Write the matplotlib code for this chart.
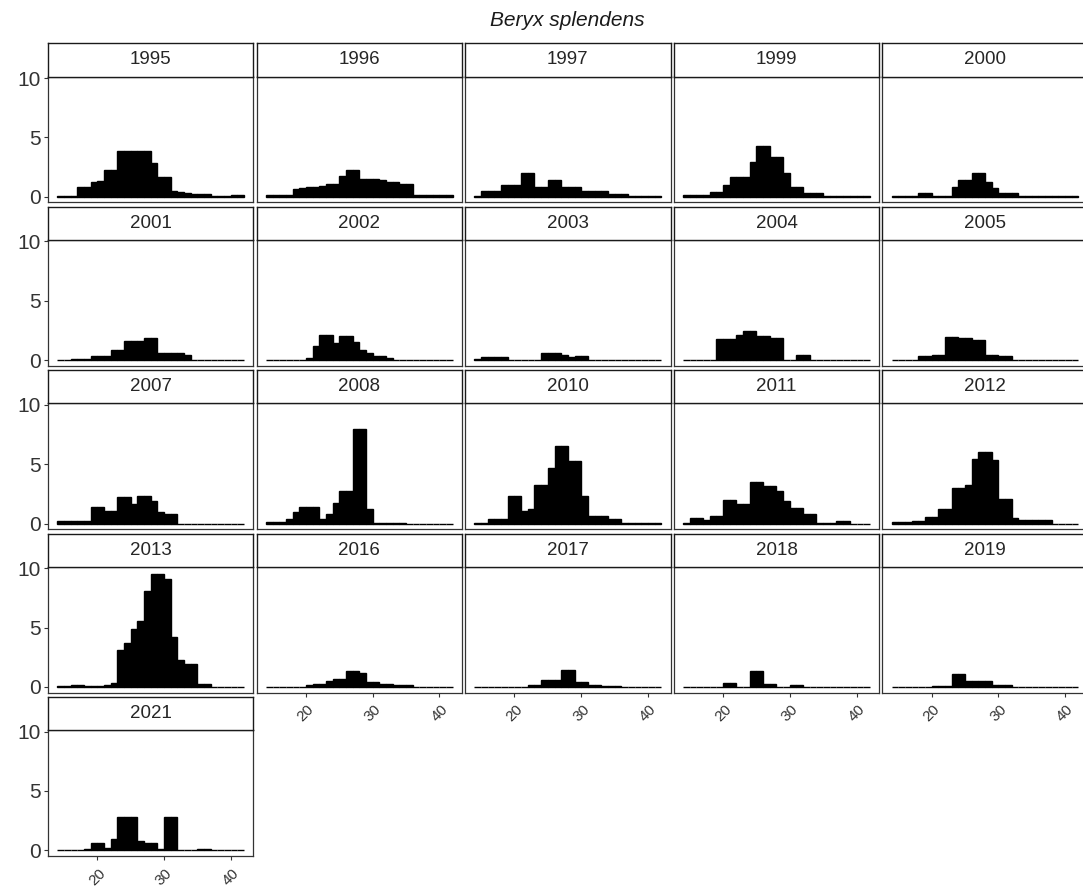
import numpy as np
import matplotlib
matplotlib.use('Agg')
import matplotlib.pyplot as plt

plt.rcParams['font.family'] = ['Liberation Sans', 'DejaVu Sans']

# bin edges (binwidth 1, length classes 14..42)
bin_edges = list(range(14, 43))

years = ['1995', '1996', '1997', '1999', '2000',
         '2001', '2002', '2003', '2004', '2005',
         '2007', '2008', '2010', '2011', '2012',
         '2013', '2016', '2017', '2018', '2019',
         '2021']

# bar heights per year, one value per bin
h1995 = [0.05, 0.05, 0.05, 0.85, 0.85, 1.25, 1.3, 2.25, 2.25, 3.85, 3.85, 3.85, 3.85, 3.85,
         2.87, 1.7, 1.7, 0.45, 0.4, 0.35, 0.22, 0.22, 0.22, 0.05, 0.05, 0.05, 0.17, 0.17]
h1996 = [0.12, 0.12, 0.12, 0.12, 0.65, 0.7, 0.8, 0.85, 0.9, 1.05, 1.05, 1.75, 2.25, 2.25,
         1.45, 1.45, 1.45, 1.4, 1.2, 1.2, 1.05, 1.05, 0.12, 0.12, 0.12, 0.12, 0.12, 0.12]
h1997 = [0.1, 0.5, 0.5, 0.5, 1.0, 1.0, 1.0, 2.0, 2.0, 0.85, 0.85, 1.4, 1.4, 0.85,
         0.85, 0.85, 0.45, 0.45, 0.45, 0.45, 0.2, 0.2, 0.2, 0.07, 0.07, 0.07, 0.07, 0.07]
h1999 = [0.12, 0.12, 0.12, 0.12, 0.42, 0.42, 1.0, 1.63, 1.63, 1.63, 2.95, 4.27, 4.27, 3.37,
         3.37, 2.0, 0.8, 0.8, 0.28, 0.28, 0.28, 0.05, 0.05, 0.05, 0.05, 0.05, 0.05, 0.05]
h2000 = [0.05, 0.05, 0.05, 0.05, 0.28, 0.28, 0.1, 0.1, 0.1, 0.85, 1.4, 1.4, 2.0, 2.0,
         1.2, 0.7, 0.28, 0.28, 0.28, 0.03, 0.03, 0.03, 0.03, 0.03, 0.03, 0.03, 0.03, 0.03]
h2001 = [0, 0, 0.08, 0.08, 0.08, 0.37, 0.37, 0.37, 0.85, 0.85, 1.63, 1.63, 1.63, 1.9,
         1.9, 0.56, 0.56, 0.56, 0.56, 0.42, 0, 0, 0, 0, 0, 0, 0, 0]
h2002 = [0, 0, 0, 0, 0, 0, 0.2, 1.2, 2.15, 2.15, 1.4, 2.05, 2.05, 1.55,
         0.85, 0.62, 0.34, 0.34, 0.14, 0, 0, 0, 0, 0, 0, 0, 0, 0]
h2003 = [0.08, 0.22, 0.22, 0.22, 0.22, 0, 0, 0, 0, 0, 0.6, 0.6, 0.6, 0.42,
         0.22, 0.37, 0.37, 0, 0, 0, 0, 0, 0, 0, 0, 0, 0, 0]
h2004 = [0, 0, 0, 0, 0, 1.77, 1.77, 1.77, 2.1, 2.45, 2.45, 2.0, 2.0, 1.9,
         1.9, 0.05, 0.05, 0.42, 0.42, 0, 0, 0, 0, 0, 0, 0, 0, 0]
h2005 = [0, 0, 0, 0, 0.37, 0.37, 0.42, 0.42, 1.97, 1.97, 1.83, 1.83, 1.7, 1.7,
         0.42, 0.42, 0.34, 0.34, 0, 0, 0, 0, 0, 0, 0, 0, 0, 0]
h2007 = [0.17, 0.17, 0.17, 0.17, 0.17, 1.35, 1.35, 1.07, 1.07, 2.25, 2.25, 1.63, 2.34, 2.34,
         1.9, 0.93, 0.8, 0.8, 0, 0, 0, 0, 0, 0, 0, 0, 0, 0]
h2008 = [0.14, 0.14, 0.14, 0.42, 0.93, 1.4, 1.4, 1.4, 0.37, 0.84, 1.71, 2.7, 2.7, 7.95,
         7.95, 1.2, 0.08, 0.08, 0.08, 0.08, 0.08, 0, 0, 0, 0, 0, 0, 0]
h2010 = [0.08, 0.08, 0.37, 0.37, 0.37, 2.34, 2.34, 1.07, 1.2, 3.27, 3.27, 4.65, 6.56, 6.56,
         5.3, 5.3, 2.34, 0.65, 0.65, 0.65, 0.37, 0.37, 0.05, 0.05, 0.05, 0.05, 0.05, 0.05]
h2011 = [0.05, 0.45, 0.45, 0.28, 0.65, 0.65, 1.97, 1.97, 1.63, 1.63, 3.46, 3.46, 3.18, 3.18,
         2.75, 1.9, 1.3, 1.3, 0.8, 0.8, 0.08, 0.08, 0.08, 0.2, 0.2, 0, 0, 0]
h2012 = [0.1, 0.1, 0.1, 0.22, 0.22, 0.56, 0.56, 1.2, 1.2, 2.95, 2.95, 3.24, 5.44, 6.0,
         6.0, 5.35, 2.05, 2.05, 0.5, 0.28, 0.28, 0.28, 0.28, 0.28, 0, 0, 0, 0]
h2013 = [0.05, 0.05, 0.2, 0.2, 0.05, 0.05, 0.1, 0.2, 0.35, 3.1, 3.7, 4.9, 5.56, 8.1,
         9.55, 9.55, 9.07, 4.2, 2.3, 1.9, 1.9, 0.22, 0.22, 0.03, 0.03, 0.03, 0.03, 0.03]
h2016 = [0, 0, 0, 0, 0, 0, 0.12, 0.22, 0.22, 0.5, 0.65, 0.65, 1.35, 1.35,
         1.2, 0.42, 0.42, 0.28, 0.28, 0.12, 0.12, 0.12, 0, 0, 0, 0, 0, 0]
h2017 = [0, 0, 0, 0, 0, 0, 0, 0, 0.2, 0.2, 0.62, 0.62, 0.62, 1.46,
         1.46, 0.42, 0.42, 0.14, 0.14, 0.06, 0.06, 0.06, 0, 0, 0, 0, 0, 0]
h2018 = [0, 0, 0, 0, 0, 0, 0.34, 0.34, 0.03, 0.03, 1.35, 1.35, 0.22, 0.22,
         0.03, 0.03, 0.17, 0.17, 0, 0, 0, 0, 0, 0, 0, 0, 0, 0]
h2019 = [0, 0, 0, 0, 0, 0, 0.08, 0.08, 0.08, 1.07, 1.07, 0.5, 0.5, 0.5,
         0.5, 0.14, 0.14, 0.14, 0.03, 0.03, 0.03, 0.03, 0.03, 0.03, 0.03, 0.03, 0.03, 0.03]
h2021 = [0, 0, 0, 0, 0.1, 0.62, 0.62, 0.2, 0.98, 2.8, 2.8, 2.8, 0.76, 0.62,
         0.62, 0.1, 2.78, 2.78, 0, 0, 0, 0.14, 0.14, 0, 0, 0, 0, 0]

heights = [h1995, h1996, h1997, h1999, h2000, h2001, h2002, h2003, h2004, h2005,
           h2007, h2008, h2010, h2011, h2012, h2013, h2016, h2017, h2018, h2019, h2021]

W, H = 1083, 891
fig = plt.figure(figsize=(W / 100, H / 100), dpi=100)

ncol = 5
col_pitch, row_pitch = 208.6, 163.4
pan_w, pan_h = 205.5, 125.9
strip_h = 33.2
x0, y0 = 47.9, 76.5

left_edges = bin_edges[:-1]
xmin, xmax = bin_edges[0], bin_edges[-1]
xpad = 0.05 * (xmax - xmin)

n = len(years)
for i, (yr, hh) in enumerate(zip(years, heights)):
    r, c = divmod(i, ncol)
    left = x0 + c * col_pitch
    top = y0 + r * row_pitch
    ax = fig.add_axes([left / W, 1 - (top + pan_h) / H, pan_w / W, pan_h / H])
    ax.bar(left_edges, hh, width=1, align='edge', color='black',
           edgecolor='black', linewidth=1.0)
    ax.set_xlim(xmin - xpad, xmax + xpad)
    ax.set_ylim(-0.48, 10.13)
    for s in ax.spines.values():
        s.set_color('#333333')
        s.set_linewidth(0.9)
    ax.set_xticks([20, 30, 40])
    ax.set_yticks([0, 5, 10])
    ax.tick_params(colors='#333333', length=3, width=0.8)
    # y labels only on first column
    if c == 0:
        ax.tick_params(axis='y', labelsize=15, labelcolor='#333333', pad=2)
    else:
        ax.tick_params(axis='y', left=False, labelleft=False)
    # x labels only on the lowest panel of each column
    if i + ncol >= n:
        ax.tick_params(axis='x', labelsize=11, labelcolor='#333333', pad=4)
        for lab in ax.get_xticklabels():
            lab.set_rotation(45)
            lab.set_ha('center')
            lab.set_va('top')
    else:
        ax.tick_params(axis='x', bottom=False, labelbottom=False)

    # facet strip
    st = fig.add_axes([left / W, 1 - top / H, pan_w / W, strip_h / H])
    st.set_xticks([])
    st.set_yticks([])
    st.set_facecolor('white')
    for s in st.spines.values():
        s.set_color('#1a1a1a')
        s.set_linewidth(1.0)
    st.text(0.5, 0.5, yr, ha='center', va='center', fontsize=13.5,
            color='#262626', transform=st.transAxes)

fig.text(567 / W, 1 - 21 / H, 'Beryx splendens', style='italic',
         ha='center', va='center', fontsize=15, color='#1a1a1a')

fig.savefig('out.png', dpi=100, facecolor='white')
